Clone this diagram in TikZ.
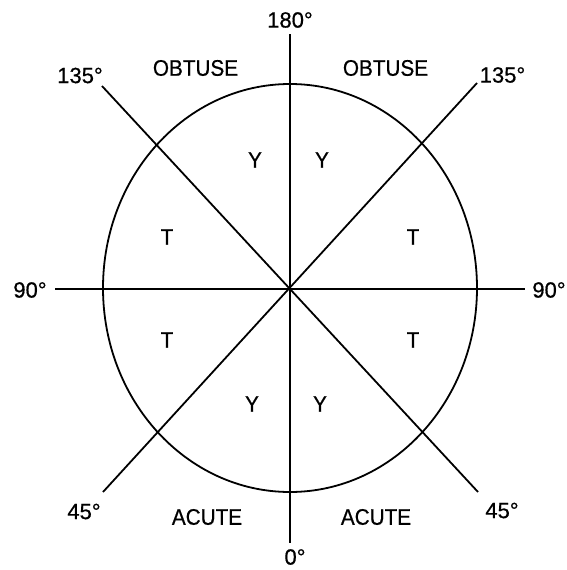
\documentclass[tikz,border=0pt]{standalone}
\usepackage{fontspec}
\setmainfont{Liberation Sans}
\newfontfamily\wordfont[FakeBold=0.6,FakeStretch=0.92]{Liberation Sans}
\newfontfamily\numfont[FakeBold=0.6]{Liberation Sans}
\begin{document}
\begin{tikzpicture}[x=1pt,y=-1pt,
  lbl/.style={inner sep=0pt,font=\wordfont\fontsize{22.5}{26}\selectfont},
  num/.style={inner sep=0pt,font=\numfont\fontsize{22}{26}\selectfont},
  ln/.style={line width=1.8pt,black}]
\useasboundingbox (0,0) rectangle (566,570);
% ellipse
\coordinate (c) at (290,288);
\draw[ln] (c) ellipse [x radius=187, y radius=204];
% line ends
\coordinate (top) at (290,34);
\coordinate (bot) at (290,543);
\coordinate (lft) at (55,289);
\coordinate (rgt) at (525,289);
\coordinate (ul) at (102,86);
\coordinate (ur) at (477,83);
\coordinate (ll) at (103,492);
\coordinate (lr) at (478,492);
\draw[ln] (top) -- (bot);
\draw[ln] (lft) -- (rgt);
\draw[ln] (ul) -- (lr);
\draw[ln] (ur) -- (ll);
% angle labels
\node[num] (a180) at (290,20) {180°};
\node[num] (a0) at (295,557) {0°};
\node[num] (a135l) at (80,75.5) {135°};
\node[num] (a135r) at (502.5,75) {135°};
\node[num] (a90l) at (30,290) {90°};
\node[num] (a90r) at (549,290) {90°};
\node[num] (a45l) at (84,511.5) {45°};
\node[num] (a45r) at (502,510.5) {45°};
% region labels
\node[lbl] (obl) at (195.5,68) {OBTUSE};
\node[lbl] (obr) at (385.5,68) {OBTUSE};
\node[lbl] (acl) at (207,517) {ACUTE};
\node[lbl] (acr) at (376,517) {ACUTE};
\node[lbl] (y1) at (255,160) {Y};
\node[lbl] (y2) at (322,160) {Y};
\node[lbl] (y3) at (252,404) {Y};
\node[lbl] (y4) at (320,404) {Y};
\node[lbl] (t1) at (167,237) {T};
\node[lbl] (t2) at (413,237) {T};
\node[lbl] (t3) at (167,340) {T};
\node[lbl] (t4) at (413,340) {T};
\end{tikzpicture}
\end{document}
